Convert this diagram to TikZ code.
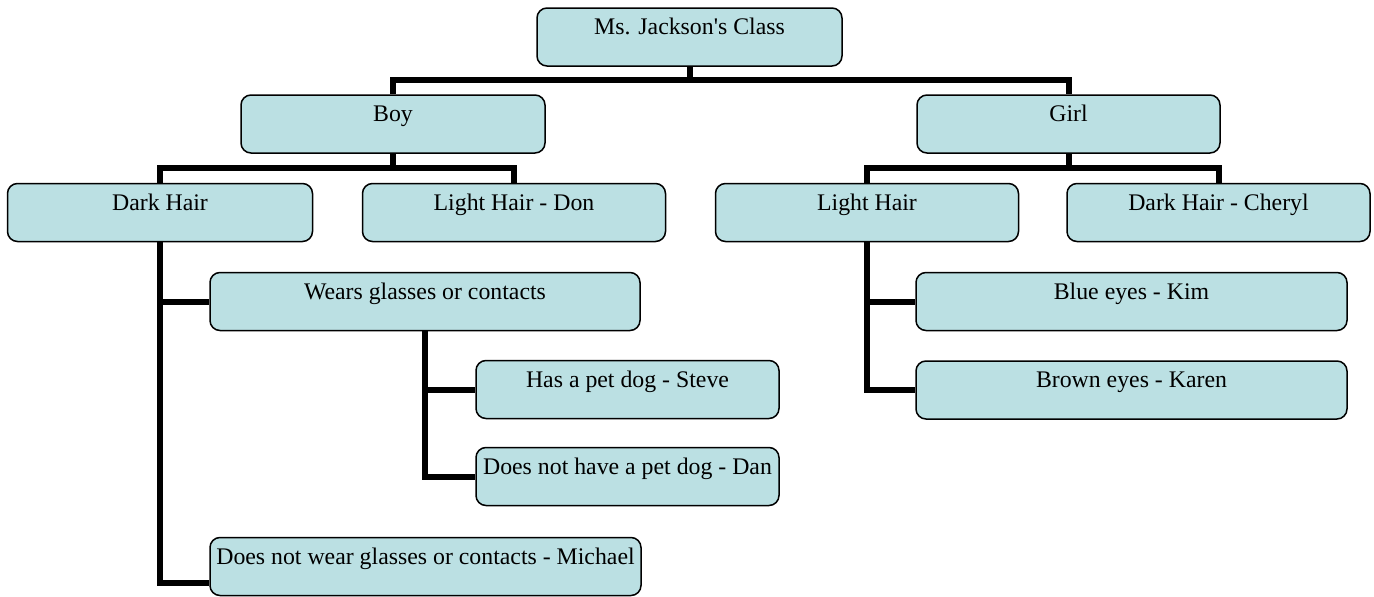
\documentclass[tikz,border=0pt]{standalone}
\usepackage{fontspec}
\setmainfont{Liberation Serif}
\usetikzlibrary{backgrounds}
\definecolor{boxfill}{RGB}{187,224,227}
\tikzset{
  box/.style={draw=black, line width=1.5pt, fill=boxfill, rounded corners=10pt,
    inner sep=0pt, minimum width=303pt, text height=26.5pt, text depth=31.5pt,
    font=\fontsize{23.8}{28}\selectfont, anchor=center},
  widebox/.style={box, minimum width=431pt},
  link/.style={line width=6pt, draw=black},
}
\begin{document}
\begin{tikzpicture}[x=1pt, y=-1pt]
\useasboundingbox (0,0) rectangle (1374,597);
\node[box, minimum width=305pt] (msj) at (689.5,37) {Ms. Jackson\textquotesingle s Class};
\node[box, minimum width=304pt] (boy) at (393,124) {Boy};
\node[box] (girl) at (1068.5,124) {Girl};
\node[box, minimum width=305pt] (dark) at (160,212.5) {Dark Hair};
\node[box] (don) at (514,212.5) {Light Hair - Don};
\node[box] (light) at (867,212.5) {Light Hair};
\node[box] (cheryl) at (1218.5,212.5) {Dark Hair - Cheryl};
\node[widebox, minimum width=430pt] (wears) at (425,301.5) {Wears glasses or contacts};
\node[widebox] (michael) at (425.5,566.5) {Does not wear glasses or contacts - Michael};
\node[box] (steve) at (627.5,389.5) {Has a pet dog - Steve};
\node[box] (dan) at (627.5,476.5) {Does not have a pet dog - Dan};
\node[widebox] (kim) at (1131.5,301.5) {Blue eyes - Kim};
\node[widebox] (karen) at (1131.5,390) {Brown eyes - Karen};
\coordinate (bus1) at (689.5,80);
\coordinate (bus2) at (393,168);
\coordinate (bus3) at (1068.5,168);
\begin{scope}[on background layer]
\draw[link] (msj.south) -- (bus1);
\draw[link] (bus1) -| (boy.north);
\draw[link] (bus1) -| (girl.north);
\draw[link] (boy.south) -- (bus2);
\draw[link] (bus2) -| (dark.north);
\draw[link] (bus2) -| (don.north);
\draw[link] (girl.south) -- (bus3);
\draw[link] (bus3) -| (light.north);
\draw[link] (bus3) -| (cheryl.north);
\draw[link] (dark.south) |- (wears.west);
\draw[link] (dark.south) |- ([yshift=-16pt]michael.west);
\draw[link] (wears.south) |- (steve.west);
\draw[link] (wears.south) |- (dan.west);
\draw[link] (light.south) |- (kim.west);
\draw[link] (light.south) |- (karen.west);
\end{scope}
\end{tikzpicture}
\end{document}
